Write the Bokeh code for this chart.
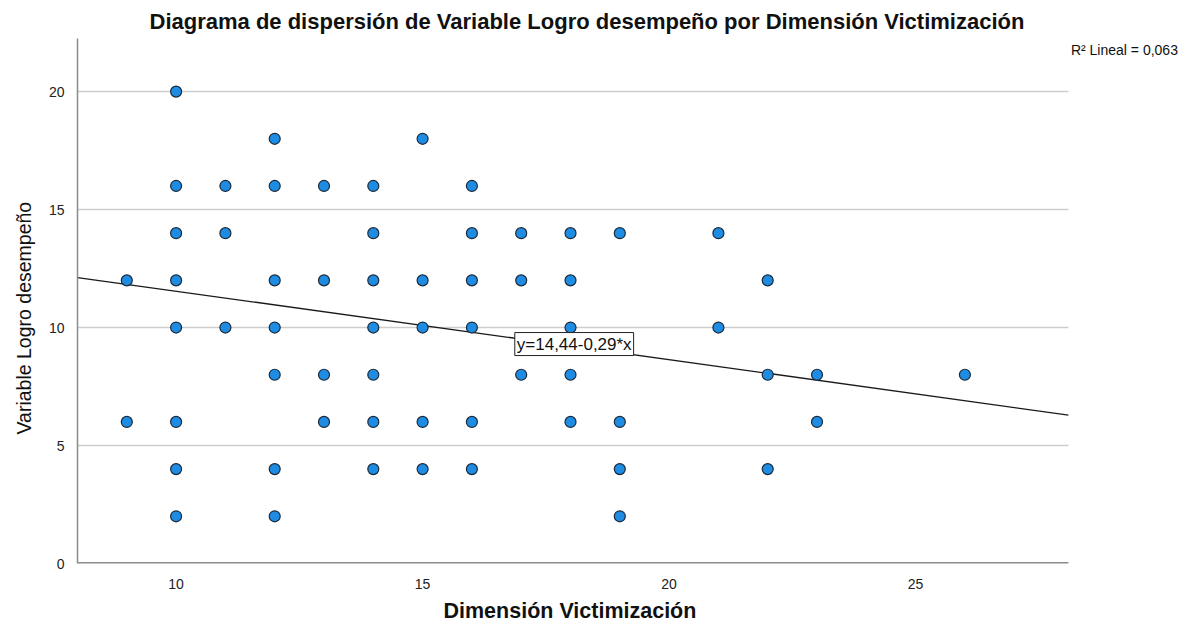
from bokeh.plotting import figure
from bokeh.models import Range1d, Label, FixedTicker, Title
from bokeh.embed import file_html
from bokeh.resources import INLINE

# Data: (Dimensión Victimización, Variable Logro desempeño)
victimizacion = [9, 9,
                 10, 10, 10, 10, 10, 10, 10, 10,
                 11, 11, 11,
                 12, 12, 12, 12, 12, 12, 12,
                 13, 13, 13, 13,
                 14, 14, 14, 14, 14, 14, 14,
                 15, 15, 15, 15, 15,
                 16, 16, 16, 16, 16, 16,
                 17, 17, 17,
                 18, 18, 18, 18, 18,
                 19, 19, 19, 19,
                 21, 21,
                 22, 22, 22,
                 23, 23,
                 26]
logro = [12, 6,
         20, 16, 14, 12, 10, 6, 4, 2,
         16, 14, 10,
         18, 16, 12, 10, 8, 4, 2,
         16, 12, 8, 6,
         16, 14, 12, 10, 8, 6, 4,
         18, 12, 10, 6, 4,
         16, 14, 12, 10, 6, 4,
         14, 12, 8,
         14, 12, 10, 8, 6,
         14, 6, 4, 2,
         14, 10,
         12, 8, 4,
         8, 6,
         8]

intercept = 14.44
slope = -0.29
r2_text = "R² Lineal = 0,063"
eq_text = "y=14,44-0,29*x"
title_text = "Diagrama de dispersión de Variable Logro desempeño  por Dimensión Victimización"
x_label = "Dimensión Victimización"
y_label = "Variable Logro desempeño"

x_ticks = [10, 15, 20, 25]
y_ticks = [0, 5, 10, 15, 20]
grid_ticks = [5, 10, 15, 20]

XMIN, XMAX = 8.0, 28.1          # visible data area of the chart
YMIN, YMAX = 0.0, 22.25
XVIEW_MAX = 30.86               # extra room on the right for the R² note

FONT = "Liberation Sans"
AXIS_GRAY = "#8c8c8c"

p = figure(width=1204, height=627, output_backend="svg", toolbar_location=None,
           x_range=Range1d(XMIN, XVIEW_MAX), y_range=Range1d(YMIN, YMAX),
           min_border_left=77, min_border_right=0, min_border_bottom=64,
           min_border_top=38)
p.outline_line_color = None
p.background_fill_color = "white"

p.title.text = title_text
p.title.align = "left"
p.title.offset = 72
p.title.text_font = FONT
p.title.text_font_size = "22px"
p.title.text_font_style = "bold"
p.title.text_color = "#111111"
p.title.standoff = 9

p.xgrid.grid_line_color = None
p.ygrid.grid_line_color = None

for ax in (p.xaxis[0], p.yaxis[0]):
    ax.axis_line_color = AXIS_GRAY
    ax.axis_line_width = 1.5
    ax.major_tick_line_color = None
    ax.minor_tick_line_color = None
    ax.major_label_text_font = FONT
    ax.major_label_text_font_size = "14px"
    ax.major_label_text_color = "#222222"

p.xaxis.axis_line_color = None   # drawn below, only under the data area
p.xaxis.ticker = FixedTicker(ticks=x_ticks)
p.yaxis.ticker = FixedTicker(ticks=y_ticks)
p.xaxis.major_label_standoff = 9
p.yaxis.major_label_standoff = 7

# axis titles as offset titles
p.add_layout(Title(text=x_label, align="left", offset=443 - 77, standoff=10,
                   text_font=FONT, text_font_size="21.5px", text_font_style="bold",
                   text_color="#111111"), "below")
p.add_layout(Title(text=y_label, align="left", offset=129, standoff=21,
                   text_font=FONT, text_font_size="19.5px", text_font_style="normal",
                   text_color="#111111"), "left")

# horizontal grid lines and bottom axis line, limited to the data area
p.segment(x0=[XMIN] * len(grid_ticks), y0=grid_ticks,
          x1=[XMAX] * len(grid_ticks), y1=grid_ticks,
          line_color="#cdcdcd", line_width=1.5)
p.segment(x0=[XMIN], y0=[YMIN], x1=[XMAX], y1=[YMIN],
          line_color=AXIS_GRAY, line_width=3)

# regression line
lx = [XMIN, XMAX]
ly = [intercept + slope * v for v in lx]
p.line(lx, ly, line_color="#1a1a1a", line_width=1.3)

# points
p.scatter(victimizacion, logro, size=11, fill_color="#1e8ce3",
          line_color="#1b2a3a", line_width=1.2)

# equation label
p.add_layout(Label(x=16.87, y=9.3, text=eq_text, text_font=FONT,
                   text_font_size="17px", text_color="#111111",
                   text_baseline="middle", text_align="left",
                   background_fill_color="white", border_line_color="#222222",
                   border_line_width=1, padding=2))

# R² note
p.add_layout(Label(x=28.15, y=21.75, text=r2_text, text_font=FONT,
                   text_font_size="14px", text_color="#111111",
                   text_baseline="middle", text_align="left"))

open("out.html", "w").write(file_html(p, INLINE))
